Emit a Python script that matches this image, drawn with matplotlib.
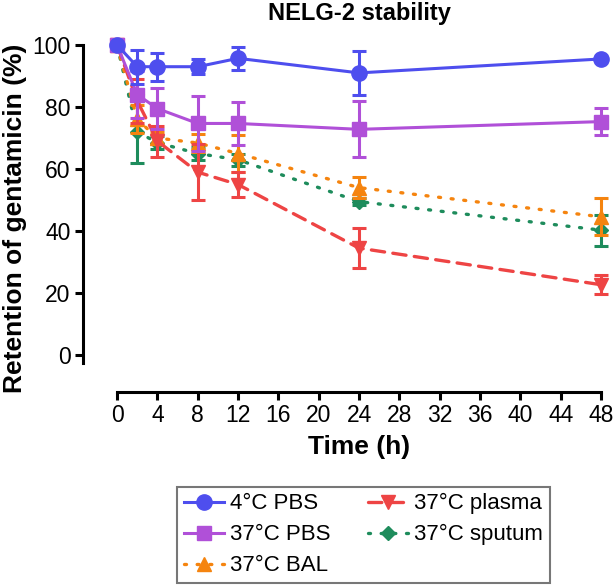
import matplotlib
matplotlib.use("Agg")
import matplotlib.pyplot as plt
from matplotlib.lines import Line2D

plt.rcParams['font.family'] = ['Liberation Sans', 'DejaVu Sans']

time_h = [0, 2, 4, 8, 12, 24, 48]

pbs4 = [100, 93, 93, 93, 95.7, 91, 95.5]
pbs4_err = [0, 5.5, 4.5, 2.5, 3.7, 7, 0.5]

pbs37 = [100, 84, 79.5, 74.7, 74.7, 72.8, 75.3]
pbs37_err = [0, 7.5, 6.5, 9, 6.8, 9, 4.4]

plasma = [100, 82, 69, 59, 55, 34.5, 22.7]
plasma_err = [0, 7, 5, 9, 4, 6.5, 3]

sputum = [100, 72, 68.5, 65, 63, 49.5, 40.3]
sputum_err = [0, 10, 2, 2, 2, 1, 5]

bal = [100, 76, 70, 68.4, 65, 54, 44.6]
bal_err = [0, 4.5, 2, 3, 6, 3.5, 6]

x_ticks = [0, 4, 8, 12, 16, 20, 24, 28, 32, 36, 40, 44, 48]
y_ticks = [0, 20, 40, 60, 80, 100]

fig = plt.figure(figsize=(6.14, 5.85), dpi=100)
ax_h = 347 / 585
ax = fig.add_axes([83/614, 193/585, 521/614, ax_h])

c_blue = '#4E4EEE'
c_purple = '#B050D8'
c_red = '#EE4444'
c_green = '#1E8C5C'
c_orange = '#F5840F'

dotted = (0, (0.6, 3.2))
dashed = (0, (4, 2.5))

styles = {
    '37°C sputum': dict(color=c_green, marker='D', markersize=7, linestyle=dotted, linewidth=2.4),
    '37°C BAL': dict(color=c_orange, marker='^', markersize=10, linestyle=dotted, linewidth=2.4),
    '37°C plasma': dict(color=c_red, marker='v', markersize=10, linestyle=dashed, linewidth=2.4),
    '37°C PBS': dict(color=c_purple, marker='s', markersize=10, linestyle='-', linewidth=2.2),
    '4°C PBS': dict(color=c_blue, marker='o', markersize=11, linestyle='-', linewidth=2.2),
}
series = [('37°C sputum', sputum, sputum_err), ('37°C BAL', bal, bal_err),
          ('37°C plasma', plasma, plasma_err), ('37°C PBS', pbs37, pbs37_err),
          ('4°C PBS', pbs4, pbs4_err)]

common = dict(capsize=5, elinewidth=2.2, capthick=2.2, clip_on=False)
for z, (lab, vals, err) in enumerate(series):
    ax.errorbar(time_h, vals, yerr=err, zorder=3 + z, dash_capstyle='round', **styles[lab], **common)

xmin, xmax = -3.38, 48.3
ax.set_xlim(xmin, xmax)
ax.set_ylim(-11.9, 100)
ax.spines['top'].set_visible(False)
ax.spines['right'].set_visible(False)
ax.spines['left'].set_bounds(-2.6, 100)
ax.spines['bottom'].set_bounds(0, 48)
for s in ('left', 'bottom'):
    ax.spines[s].set_linewidth(2.2)
ax.set_xticks(x_ticks)
ax.set_yticks(y_ticks)
ax.tick_params(axis='both', width=2.2, length=6, labelsize=16.5, pad=3)

xc = ((0 - xmin) + (48 - xmin)) / 2 / (xmax - xmin)
ax.set_xlabel('Time (h)', fontsize=19, fontweight='bold')
ax.xaxis.set_label_coords(xc, -(435 - 392) / 347)
ax.set_ylabel('Retention of gentamicin (%)', fontsize=19, fontweight='bold', labelpad=4)
ax.set_title('NELG-2 stability', fontsize=17, fontweight='bold', pad=18, x=xc)

order = ['4°C PBS', '37°C PBS', '37°C BAL', '37°C plasma', '37°C sputum']
handles = [Line2D([], [], dash_capstyle='round', **styles[o]) for o in order]
leg = fig.legend(handles, order, ncol=2, fontsize=16,
                 loc='lower left', bbox_to_anchor=(177/614, 2/585, 373/614, 1 - 479/585 - 2/585),
                 mode='expand', frameon=True, fancybox=False, edgecolor='#555555',
                 borderaxespad=0,
                 handlelength=1.8, handletextpad=0.3, labelspacing=0.45, borderpad=0.3,
                 columnspacing=1.0)
leg.get_frame().set_linewidth(1.5)

fig.savefig('out.png', dpi=100)
